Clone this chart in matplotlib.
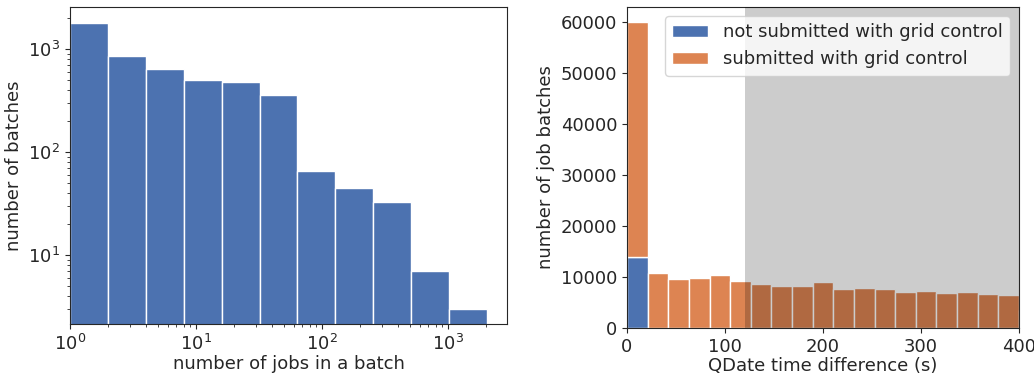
import matplotlib
matplotlib.use("Agg")
import matplotlib.pyplot as plt
import seaborn as sns
import numpy as np

sns.set_style("ticks")
plt.rcParams['font.family'] = ['DejaVu Sans']
plt.rcParams['font.size'] = 13

# left: batch sizes (log bins, powers of two)
batch_edges = [1, 2, 4, 8, 16, 32, 64, 128, 256, 512, 1024, 2048]
batch_counts = [1790, 855, 646, 500, 483, 357, 66, 45, 33, 7, 3]

# right: QDate time difference, 19 bins up to 400 s plus one beyond
qdate_edges = np.linspace(0, 400 * 20 / 19, 21)
not_gc = [14000] + [0] * 19
with_gc = [46000, 10725, 9605, 9740, 10400, 9150, 8690, 8160, 8290, 9010,
           7570, 7900, 7570, 7040, 7240, 6840, 7040, 6580, 6380, 3550]

pal = sns.color_palette("deep")

fig = plt.figure(figsize=(10.34, 3.76), dpi=100)
ax1 = fig.add_axes([70/1034, 1-324/376, 437/1034, 317/376])
ax2 = fig.add_axes([627/1034, 1-328/376, 392/1034, 321/376])

ax1.hist(batch_edges[:-1], bins=batch_edges, weights=batch_counts,
         color=pal[0], edgecolor='w', linewidth=1)
ax1.set_xscale('log')
ax1.set_yscale('log')
ax1.set_xlim(1, 2950)
ax1.set_ylim(2.15, 2570)
ax1.set_xlabel('number of jobs in a batch', labelpad=1)
ax1.set_ylabel('number of batches')

centers = (qdate_edges[:-1] + qdate_edges[1:]) / 2
ax2.hist([centers, centers], bins=qdate_edges, weights=[not_gc, with_gc],
         stacked=True, color=[pal[0], pal[1]], edgecolor='w', linewidth=1,
         label=['not submitted with grid control', 'submitted with grid control'])
ax2.axvspan(120, 430, color='k', alpha=0.2, zorder=5, lw=0)
ax2.set_xlim(0, 400)
ax2.set_xlabel('QDate time difference (s)', labelpad=1)
ax2.set_ylabel('number of job batches')
ax2.legend(loc='upper right')

fig.savefig('out.png', dpi=100)
